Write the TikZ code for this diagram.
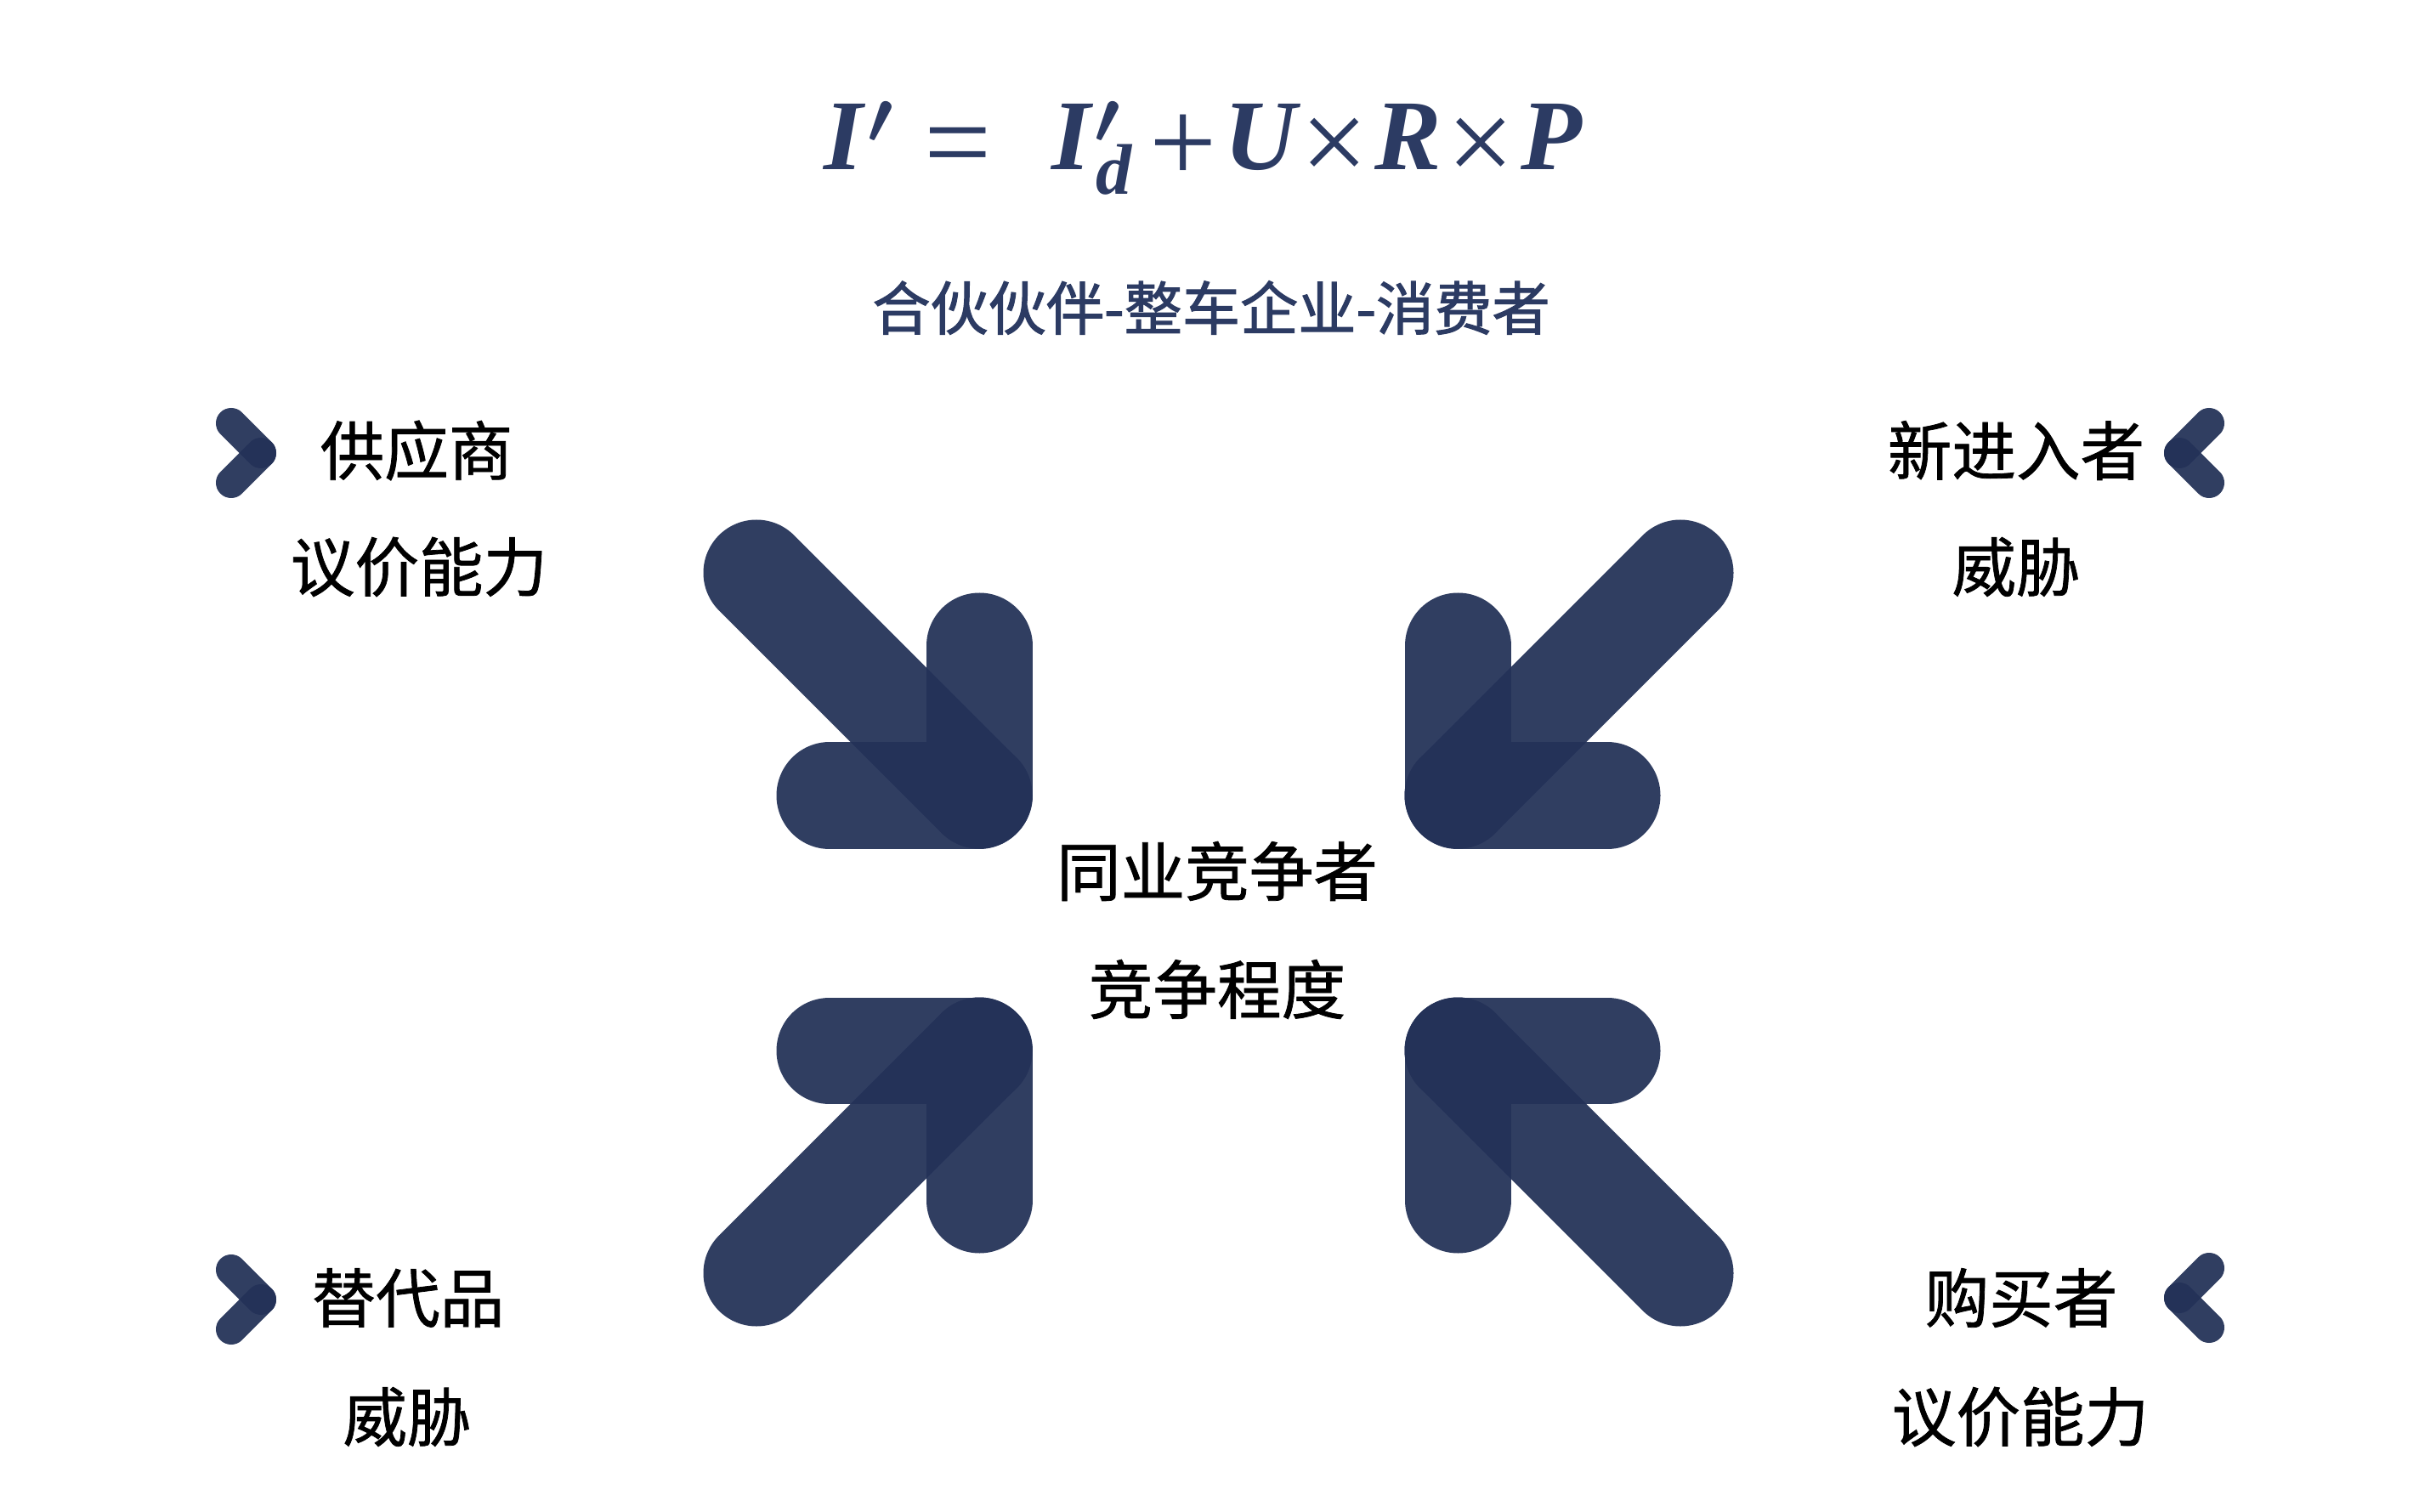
\documentclass[tikz,border=0pt]{standalone}
\usepackage{fontspec}
\newfontfamily\cjk{Noto Sans CJK SC}[FakeBold=1]
\newfontfamily\cjkhead{Noto Sans CJK SC}[FakeBold=1.6]
\newfontfamily\eqfont{Liberation Serif}
\newcommand{\eqop}[1]{\raisebox{-0.12em}{\eqfont\mdseries\upshape\fontsize{40}{40}\selectfont #1}}
\newcommand{\eqprime}{\kern0.04em{\fontsize{44}{44}\selectfont\boldmath$'$}}
\usetikzlibrary{positioning}
\definecolor{navy}{RGB}{44,59,99}
\definecolor{navydeep}{RGB}{36,50,88}
\tikzset{
  every node/.style={inner sep=0pt},
  bar/.style={line width=1.25cm, line cap=round, draw=navydeep, draw opacity=0.94},
  chev/.style={line width=0.36cm, line cap=round, draw=navydeep, draw opacity=0.94},
  lbl/.style={font=\cjk\fontsize{21.5}{24}\selectfont, text=black},
  subt/.style={font=\cjkhead\fontsize{19.4}{24}\selectfont, text=navy},
  formula/.style={font=\eqfont\bfseries\itshape\fontsize{33.5}{40}\selectfont, text=navy},
}

\begin{document}
\begin{tikzpicture}

\fill[white] (0,0) rectangle (28.66,-17.79);

% --- heading ---
\node[formula, anchor=base west] (eq) at (9.69,-2.00)
  {I\eqprime\hspace{0.3em}\eqop{=}\hspace{0.6em}I\eqprime\kern-0.26em\raisebox{-0.24em}{\fontsize{24}{24}\selectfont d}\hspace{0.18em}\eqop{+}\hspace{0.07em}U\hspace{0.05em}\eqop{×}\hspace{0.06em}R\hspace{0.06em}\eqop{×}\hspace{0.06em}P};
\node[subt] (chain) at (14.25,-3.62) {合伙伙伴-整车企业-消费者};

% --- corner labels ---
\node[lbl] (sup) at (4.90,-5.30) {供应商};
\node[lbl] (supp) at (4.93,-6.67) {议价能力};
\node[lbl] (ent) at (23.72,-5.30) {新进入者};
\node[lbl] (entt) at (23.72,-6.67) {威胁};
\node[lbl] (subst) at (4.80,-15.27) {替代品};
\node[lbl] (substt) at (4.79,-16.67) {威胁};
\node[lbl] (buy) at (23.78,-15.27) {购买者};
\node[lbl] (buyy) at (23.77,-16.67) {议价能力};

% --- centre ---
\node[lbl] (riv) at (14.32,-10.25) {同业竞争者};
\node[lbl] (rivv) at (14.32,-11.64) {竞争程度};

% --- chevrons ---
\coordinate (tlchev) at (3.07,-5.33);
\coordinate (blchev) at (3.07,-15.29);
\coordinate (trchev) at (25.64,-5.33);
\coordinate (brchev) at (25.64,-15.27);
\draw[chev] (tlchev) -- ++(-0.35,0.35);
\draw[chev] (tlchev) -- ++(-0.35,-0.35);
\draw[chev] (blchev) -- ++(-0.35,0.35);
\draw[chev] (blchev) -- ++(-0.35,-0.35);
\draw[chev] (trchev) -- ++(0.35,0.35);
\draw[chev] (trchev) -- ++(0.35,-0.35);
\draw[chev] (brchev) -- ++(0.35,0.35);
\draw[chev] (brchev) -- ++(0.35,-0.35);

% --- four arrows pointing in ---
\coordinate (tl) at (11.52,-9.36);
\coordinate (tr) at (17.15,-9.36);
\coordinate (bl) at (11.52,-12.36);
\coordinate (br) at (17.15,-12.36);

\draw[bar] (tl) -- ++(-2.62,2.62);
\draw[bar] (tl) -- ++(0,1.76);
\draw[bar] (tl) -- ++(-1.76,0);

\draw[bar] (tr) -- ++(2.62,2.62);
\draw[bar] (tr) -- ++(0,1.76);
\draw[bar] (tr) -- ++(1.76,0);

\draw[bar] (bl) -- ++(-2.62,-2.62);
\draw[bar] (bl) -- ++(0,-1.76);
\draw[bar] (bl) -- ++(-1.76,0);

\draw[bar] (br) -- ++(2.62,-2.62);
\draw[bar] (br) -- ++(0,-1.76);
\draw[bar] (br) -- ++(1.76,0);

\end{tikzpicture}
\end{document}
